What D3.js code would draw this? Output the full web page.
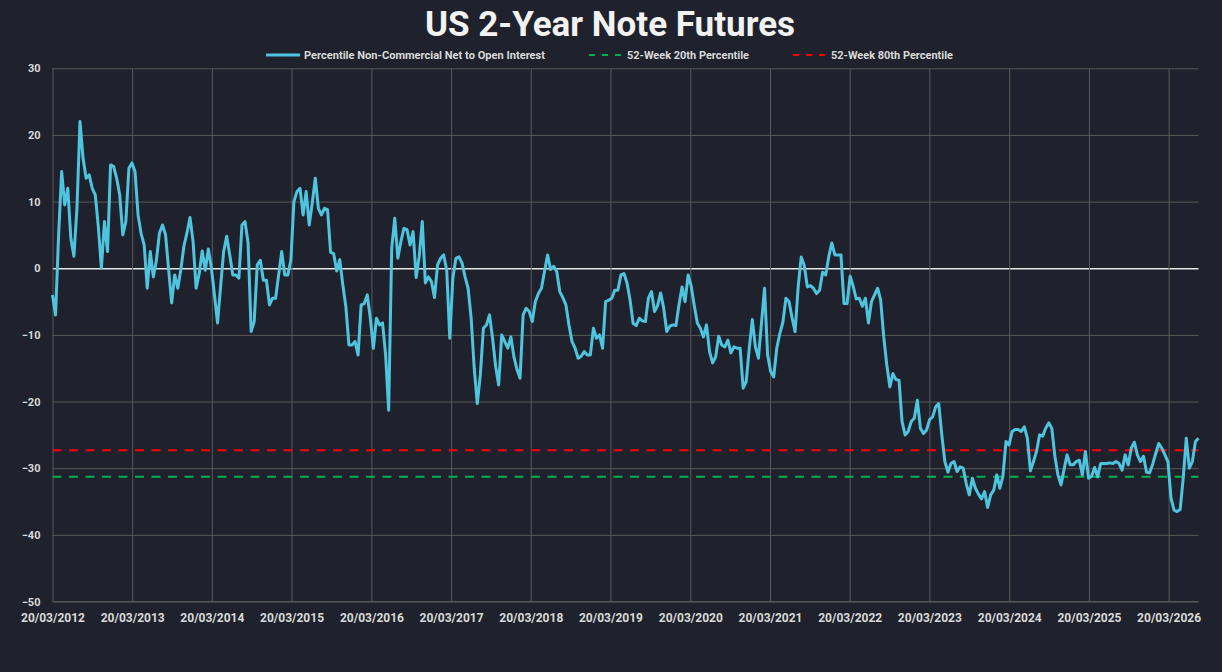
<!DOCTYPE html>
<html>
<head>
<meta charset="utf-8">
<script src="https://cdn.jsdelivr.net/npm/d3@7"></script>
<style>
  body { margin: 0; background: #1f222c; }
  text { font-family: Roboto, "Liberation Sans", sans-serif; }
</style>
</head>
<body>
<div id="chart"></div>
<script>
// weekly COT series, sampled every second week from 20/03/2012
var startDate = new Date(2012, 2, 20);
var stepDays = 14;
var values = [
  -4, -7, 5, 14.5, 9.5, 12, 4.5, 1.8, 9, 22,
  16.5, 13.5, 14, 12, 11, 6.2, 0, 7, 2.5, 15.5,
  15.3, 13.5, 11, 5, 7, 15, 15.8, 14.5, 8, 5.2,
  3.5, -3, 2.5, -1.3, 1.2, 5.3, 6.5, 5, -0.2, -5.2,
  -1, -3, -0.2, 3.3, 5.3, 7.6, 4, -3, -0.8, 2.6,
  -0.3, 2.9, 0, -4, -8.2, -2.8, 2.5, 4.8, 2, -1,
  -1, -1.5, 6.5, 7, 3.8, -9.5, -8, 0.5, 1.2, -1.8,
  -1.8, -5.5, -4.5, -4.5, -1, 2.5, -1, -1, 1.2, 10,
  11.5, 12, 8, 11.5, 6.5, 9.8, 13.5, 9, 8, 9,
  8.8, 2.4, 2.2, -0.4, 1.3, -2.5, -5.8, -11.5, -11.5, -11,
  -13, -5.5, -5.3, -4, -7.5, -12, -7.5, -8.5, -8.2, -13,
  -21.3, 3, 7.5, 1.5, 4, 6, 5.8, 3.5, 5.5, -1.4,
  1.8, 7, -2.2, -1.3, -2, -4.4, 0.5, 1.5, 2, -0.3,
  -10.5, -1.5, 1.5, 1.7, 0.8, -1.3, -3, -7.5, -15, -20.3,
  -16, -9, -8.5, -7, -10.5, -14.7, -17.5, -10, -11, -12,
  -10.3, -13.3, -15.2, -16.5, -7, -6, -6.5, -8, -5, -3.8,
  -3, -0.5, 2, -0.2, 0.3, -0.5, -3.5, -4.4, -5.5, -8.5,
  -11, -12, -13.5, -13.2, -12.5, -13, -13, -9, -10.5, -10,
  -12, -5, -4.8, -4.5, -3.3, -3.3, -1, -0.8, -2.2, -4.8,
  -8.3, -8.6, -7.5, -7.9, -8, -4.5, -3.5, -6.5, -5.6, -3.7,
  -6, -9.5, -8.7, -8.5, -8.6, -5.5, -2.8, -5, -1, -2.7,
  -5.6, -8.2, -9, -10.3, -8.5, -12.5, -14.2, -13.3, -10.2, -11.5,
  -11.8, -10.8, -12.7, -11.8, -12, -12, -18, -17, -12, -7.7,
  -11.8, -13.5, -8.2, -3, -13, -15.5, -16.3, -12, -9.8, -8.1,
  -4.5, -5, -7.4, -9.5, -2.8, 1.7, 0.4, -2.8, -2.6, -3,
  -3.8, -3.3, -0.6, -1, 1.7, 3.8, 2, 2, 2, -5.3,
  -5.3, -1.2, -2.7, -4.6, -4.5, -5.7, -4.5, -8.2, -5, -4,
  -3, -4.8, -10.3, -14.5, -17.8, -15.8, -16.7, -16.8, -23, -25,
  -24.5, -23, -22.5, -19.8, -24, -24.8, -24.3, -22.7, -22.3, -20.8,
  -20.3, -25, -29, -30.6, -29.3, -29, -30.5, -29.8, -30, -32.3,
  -34, -31.5, -33, -33.9, -34.6, -33.5, -35.9, -34, -33.3, -31,
  -33, -31.2, -26, -26.5, -24.5, -24.2, -24.2, -24.5, -23.8, -25.5,
  -30.4, -29, -27.5, -25, -25.2, -24, -23.2, -24, -28.2, -31,
  -32.5, -30.2, -28, -29.5, -29.5, -29, -28.8, -31, -27.5, -31.5,
  -31.2, -29.9, -31.3, -29.3, -29.3, -29.3, -29.2, -29.3, -29, -29.3,
  -30.3, -28, -29.5, -27, -26.1, -28, -29, -28.2, -30.6, -30.7,
  -29.4, -27.8, -26.3, -27, -28, -29, -34.5, -36.3, -36.5, -36.2,
  -31.5, -25.5, -30, -29, -26, -25.5
];
var pct20 = -31.3;
var pct80 = -27.3;
var yTicks = [-50, -40, -30, -20, -10, 0, 10, 20, 30];
var xTickYears = [2012, 2013, 2014, 2015, 2016, 2017, 2018, 2019, 2020, 2021, 2022, 2023, 2024, 2025, 2026];
var seriesNames = ["Percentile Non-Commercial Net to Open Interest", "52-Week 20th Percentile", "52-Week 80th Percentile"];
var colors = ["#4fc4df", "#00b050", "#ff0000"];

var data = values.map(function (v, i) {
  return [d3.timeDay.offset(startDate, i * stepDays), v];
});

createPlot(data);

function createPlot(data) {
  var svg = d3.select("#chart")
    .append("svg")
    .attr("width", 1222)
    .attr("height", 672);

  svg.append("rect")
    .attr("width", 1222)
    .attr("height", 672)
    .attr("fill", "#1f222c");

  var pArea = [52.5, 68.3, 1198.5, 601.5];

  var x = d3.scaleTime()
    .domain([data[0][0], data[data.length - 1][0]])
    .range([pArea[0], pArea[2]]);
  var y = d3.scaleLinear()
    .domain([-50, 30])
    .range([pArea[3], pArea[1]]);

  var xTicks = xTickYears.map(function (yr) { return new Date(yr, 2, 20); });

  // title
  svg.append("text")
    .attr("x", 610)
    .attr("y", 36)
    .attr("text-anchor", "middle")
    .attr("fill", "#f2f2f2")
    .attr("font-size", 35)
    .attr("font-weight", "bold")
    .text("US 2-Year Note Futures");

  var g = svg.append("g");

  // horizontal grid
  g.append("g")
    .attr("class", "axis axis--y")
    .attr("transform", `translate(${pArea[0]},0)`)
    .call(d3.axisLeft(y).tickValues(yTicks).tickSize(-(pArea[2] - pArea[0])).tickPadding(12))
    .call(function (a) {
      a.select(".domain").remove();
      a.selectAll("line")
        .attr("stroke", function (d) { return d === 0 ? "#e6e6e6" : "#595959"; })
        .attr("stroke-width", function (d) { return d === 0 ? 1.3 : 1; });
      a.selectAll("text")
        .attr("fill", "#d9d9d9")
        .attr("font-size", 11)
        .attr("font-weight", "bold")
        .attr("font-family", "Roboto, sans-serif");
    });

  // vertical grid + date labels
  g.append("g")
    .attr("class", "axis axis--x")
    .attr("transform", `translate(0,${pArea[3]})`)
    .call(d3.axisBottom(x).tickValues(xTicks).tickSize(-(pArea[3] - pArea[1]))
      .tickPadding(12)
      .tickFormat(function (d) { return "20/03/" + d.getFullYear(); }))
    .call(function (a) {
      a.select(".domain").remove();
      a.selectAll("line").attr("stroke", "#595959");
      a.selectAll("text")
        .attr("fill", "#d9d9d9")
        .attr("font-size", 12)
        .attr("font-weight", "bold")
        .attr("font-family", "Roboto, sans-serif");
    });

  // bottom axis line
  g.append("line")
    .attr("x1", x.range()[0]).attr("x2", x.range()[1])
    .attr("y1", y(-50)).attr("y2", y(-50))
    .attr("stroke", "#595959");

  var domainX = x.domain();

  // percentile lines
  [[pct20, colors[1]], [pct80, colors[2]]].forEach(function (p) {
    g.append("line")
      .attr("x1", x(domainX[0]))
      .attr("x2", x(domainX[1]))
      .attr("y1", y(p[0]))
      .attr("y2", y(p[0]))
      .attr("stroke", p[1])
      .attr("stroke-width", 2)
      .attr("stroke-dasharray", "9,7.5");
  });

  var line = d3.line()
    .x(function (d) { return x(d[0]); })
    .y(function (d) { return y(d[1]); });

  g.append("path")
    .datum(data)
    .attr("fill", "none")
    .attr("stroke", colors[0])
    .attr("stroke-width", 3)
    .attr("stroke-linejoin", "round")
    .attr("d", line);

  // legend
  var legend = svg.append("g").attr("transform", "translate(0,55)");
  var items = [
    { sx: 266, ex: 300, tx: 304, tw: 241, dash: null },
    { sx: 589, ex: 624, tx: 627, tw: 122, dash: "6,7" },
    { sx: 793, ex: 828, tx: 831, tw: 122, dash: "6,7" }
  ];
  items.forEach(function (it, i) {
    legend.append("line")
      .attr("x1", it.sx).attr("x2", it.ex)
      .attr("y1", 0).attr("y2", 0)
      .attr("stroke", colors[i])
      .attr("stroke-width", i === 0 ? 3 : 2)
      .attr("stroke-dasharray", it.dash);
    legend.append("text")
      .attr("x", it.tx)
      .attr("y", 4)
      .attr("fill", "#d9d9d9")
      .attr("font-size", 11)
      .attr("font-weight", "bold")
      .attr("textLength", it.tw)
      .attr("lengthAdjust", "spacingAndGlyphs")
      .text(seriesNames[i]);
  });
}
</script>
</body>
</html>
